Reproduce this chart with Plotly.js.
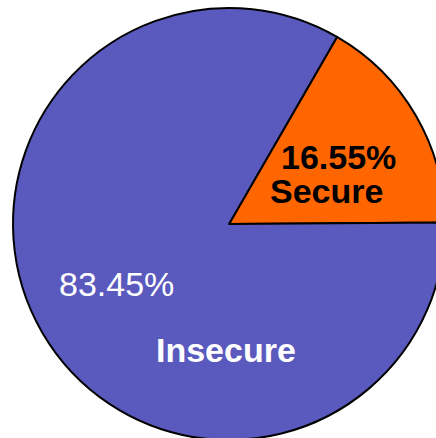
<!DOCTYPE html>
<html>
<head>
<meta charset="utf-8">
<script src="https://cdn.plot.ly/plotly-3.0.1.min.js"></script>
<style>
html, body { margin:0; padding:0; width:436px; height:438px; overflow:hidden; background:#fff; }
#chart { position:absolute; left:0; top:0; width:458px; height:448px; }
</style>
</head>
<body>
<div id="chart"></div>
<script>
// Data
const categories = ["Secure", "Insecure"];
const values = [16.55, 83.45];
const colors = ["#ff6600", "#5a5abe"];

const W = 458, H = 448, ML = 13, MR = 13, MT = 8, MB = 8;
const PW = W - ML - MR, PH = H - MT - MB;
function px(x) { return (x - ML) / PW; }
function py(y) { return 1 - (y - MT) / PH; }
function pct(v) { return v.toFixed(2) + "%"; }

const trace = {
  type: "pie",
  labels: categories,
  values: values,
  sort: false,
  direction: "counterclockwise",
  rotation: 30,
  textinfo: "none",
  hoverinfo: "label+percent",
  marker: { colors: colors, line: { color: "#000000", width: 2 } },
  showlegend: false
};

const fontFamily = "Liberation Sans, Arial, sans-serif";
const annotations = [
  { text: "<b>" + pct(values[0]) + "</b>", x: px(338), y: py(157), color: "#000000" },
  { text: "<b>" + categories[0] + "</b>", x: px(326), y: py(191), color: "#000000" },
  { text: pct(values[1]), x: px(116), y: py(284), color: "#ffffff" },
  { text: "<b>" + categories[1] + "</b>", x: px(226), y: py(350), color: "#ffffff" }
].map(a => ({
  text: a.text, x: a.x, y: a.y, xref: "paper", yref: "paper",
  xanchor: "center", yanchor: "middle", showarrow: false,
  font: { family: fontFamily, size: 34, color: a.color }
}));

const layout = {
  width: W, height: H,
  margin: { l: ML, r: MR, t: MT, b: MB, pad: 0 },
  paper_bgcolor: "#ffffff",
  plot_bgcolor: "#ffffff",
  annotations: annotations
};

Plotly.newPlot("chart", [trace], layout, { displayModeBar: false, staticPlot: true });
</script>
</body>
</html>
